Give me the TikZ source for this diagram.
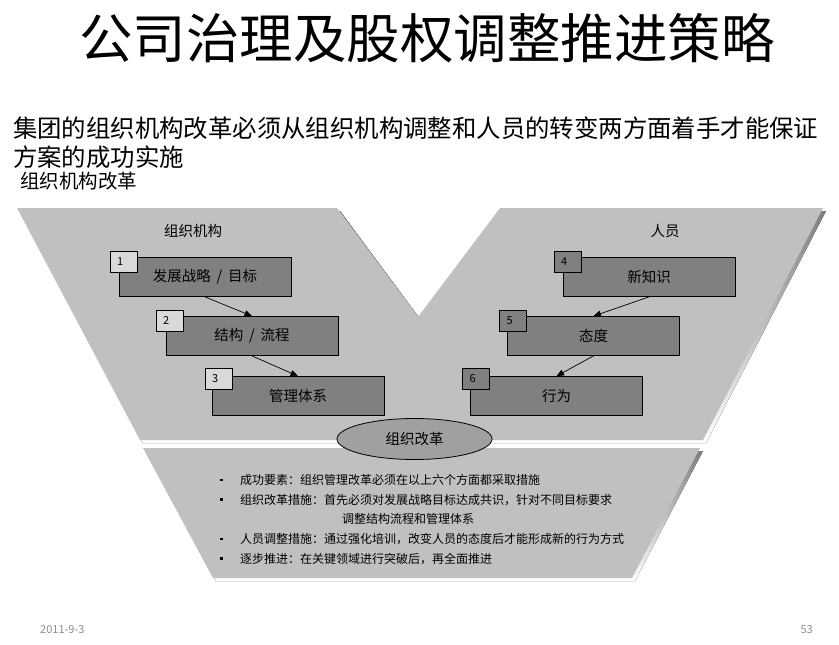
\documentclass[tikz,border=0pt]{standalone}
\usepackage{fontspec}
\setmainfont{Noto Sans CJK SC}
\usepackage{tikz}
\usetikzlibrary{arrows,shapes}
\definecolor{panel}{HTML}{C0C0C0}
\definecolor{boxgray}{HTML}{808080}
\definecolor{numlight}{HTML}{D9D9D9}
\definecolor{ovalgray}{HTML}{A0A0A0}
\definecolor{shade}{HTML}{7F7F7F}
\definecolor{foot}{HTML}{8C8C8C}
\newcommand{\numtag}[1]{\makebox[13pt][l]{\raisebox{-3.5pt}[0pt][0pt]{#1}}}

\begin{document}
\begin{tikzpicture}[x=1pt,y=-1pt,
  stepbox/.style={draw,fill=boxgray,line width=.8pt,minimum width=172pt,
    minimum height=39pt,inner sep=0,font=\fontsize{14.5}{17}\selectfont},
  numbox/.style={draw,line width=.8pt,anchor=north west,minimum width=27pt,
    minimum height=21pt,inner xsep=7pt,inner ysep=0pt,
    font=\fontsize{11}{12}\selectfont},
  link/.style={-triangle 45,line width=.7pt}]
\useasboundingbox (0,0) rectangle (839,645);

\node[inner sep=0] (title) at (427,38) {\fontsize{53.5}{60}\selectfont 公司治理及股权调整推进策略};
\node[inner sep=0,anchor=west,align=left,font=\fontsize{24.4}{29}\selectfont] (lead) at (13,142.5)
  {集团的组织机构改革必须从组织机构调整和人员的转变两方面着手才能保证\\方案的成功实施};
\node[inner sep=0,anchor=west,font=\fontsize{19.5}{22}\selectfont] (sub) at (20,181) {组织机构改革};

% upper V panel
\fill[shade,shift={(3,3)}] (17,208) -- (337,208) -- (418,317) -- (500,208) -- (823,208)
  -- (703,440) -- (140,440) -- cycle;
\fill[panel] (17,208) -- (337,208) -- (418,317) -- (500,208) -- (823,208)
  -- (703,440) -- (140,440) -- cycle;
% lower panel
\fill[shade,shift={(3,3)}] (143,448) -- (700,448) -- (632,578) -- (213,578) -- cycle;
\fill[panel] (143,448) -- (700,448) -- (632,578) -- (213,578) -- cycle;

\node[inner sep=0,font=\fontsize{14.5}{17}\selectfont] (org) at (193,231) {组织机构};
\node[inner sep=0,font=\fontsize{14.5}{17}\selectfont] (ppl) at (665,231) {人员};

\node[stepbox] (s1) at (205,277) {发展战略 \,/\, 目标};
\node[stepbox] (s2) at (252,336) {结构 \,/\, 流程};
\node[stepbox] (s3) at (298,396) {管理体系};
\node[stepbox] (s4) at (649,277) {新知识};
\node[stepbox] (s5) at (593.5,336) {态度};
\node[stepbox] (s6) at (556.5,396) {行为};

\node[numbox,fill=numlight] (n1) at ([shift={(-9pt,6pt)}]s1.north west) {\numtag{1}};
\node[numbox,fill=numlight] (n2) at ([shift={(-10pt,6pt)}]s2.north west) {\numtag{2}};
\node[numbox,fill=numlight] (n3) at ([shift={(-7pt,8pt)}]s3.north west) {\numtag{3}};
\node[numbox,fill=boxgray] (n4) at ([shift={(-9pt,6pt)}]s4.north west) {\numtag{4}};
\node[numbox,fill=boxgray] (n5) at ([shift={(-8pt,6pt)}]s5.north west) {\numtag{5}};
\node[numbox,fill=boxgray] (n6) at ([shift={(-8pt,8pt)}]s6.north west) {\numtag{6}};

\draw[link] (s1.south) -- (s2.north);
\draw[link] (s2.south) -- (s3.north);
\draw[link] (s4.south) -- (s5.north);
\draw[link] (s5.south) -- (s6.north);

\node[draw,ellipse,fill=ovalgray,line width=.8pt,minimum width=155pt,minimum height=41pt,
  inner sep=0,font=\fontsize{14.5}{17}\selectfont] (reform) at (414.5,439) {组织改革};

\node[inner sep=0,anchor=west,align=left,font=\fontsize{12}{19.6}\selectfont] (points) at (220,519.5)
  {\makebox[20pt][l]{\rule[3.5pt]{2.5pt}{2.5pt}}成功要素：组织管理改革必须在以上六个方面都采取措施\\
   \makebox[20pt][l]{\rule[3.5pt]{2.5pt}{2.5pt}}组织改革措施：首先必须对发展战略目标达成共识，针对不同目标要求\\
   \hspace*{122pt}调整结构流程和管理体系\\
   \makebox[20pt][l]{\rule[3.5pt]{2.5pt}{2.5pt}}人员调整措施：通过强化培训，改变人员的态度后才能形成新的行为方式\\
   \makebox[20pt][l]{\rule[3.5pt]{2.5pt}{2.5pt}}逐步推进：在关键领域进行突破后，再全面推进};

\node[inner sep=0,anchor=west,text=foot,font=\fontsize{11}{12}\selectfont] (date) at (40,630) {2011-9-3};
\node[inner sep=0,anchor=east,text=foot,font=\fontsize{11}{12}\selectfont] (page) at (813,630) {53};
\end{tikzpicture}
\end{document}
